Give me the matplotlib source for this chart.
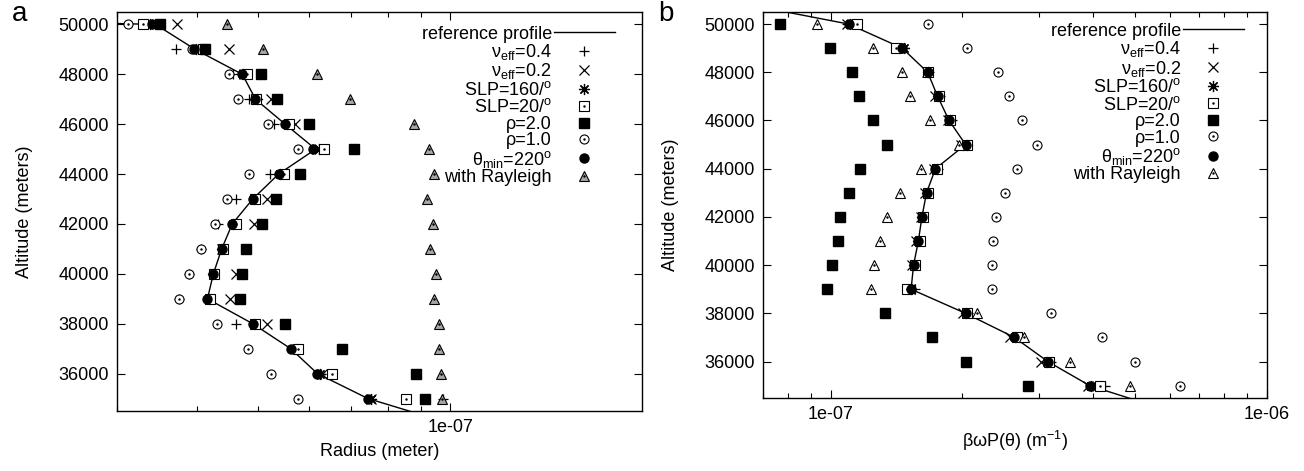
import matplotlib
matplotlib.use('Agg')
from matplotlib import pyplot as plt
import numpy as np

plt.rcParams['font.family'] = ['Liberation Sans', 'DejaVu Sans']
plt.rcParams['mathtext.default'] = 'regular'

# altitudes (meters)
alt = [50000, 49000, 48000, 47000, 46000, 45000, 44000, 43000,
       42000, 41000, 40000, 39000, 38000, 37000, 36000, 35000]
ref_alt = [51000] + alt + [34000]

# panel a: radius (meter)
ref_a = [1.0e-9, 3.45e-8, 3.98e-8, 4.72e-8, 4.95e-8, 5.51e-8, 6.15e-8, 5.38e-8, 4.90e-8,
         4.55e-8, 4.38e-8, 4.25e-8, 4.16e-8, 4.90e-8, 5.62e-8, 6.19e-8, 7.43e-8, 1.0e-7]
nu04_a = [3.40e-8, 3.72e-8, 4.56e-8, 4.83e-8, 5.29e-8, 6.13e-8, 5.22e-8, 4.61e-8,
          4.32e-8, 4.07e-8, 3.89e-8, 3.76e-8, 4.61e-8, 5.70e-8, 6.27e-8, 9.74e-8]
nu02_a = [3.73e-8, 4.49e-8, 4.75e-8, 5.24e-8, 5.70e-8, 6.18e-8, 5.48e-8, 5.16e-8,
          4.93e-8, 4.39e-8, 4.62e-8, 4.52e-8, 5.16e-8, 5.77e-8, 6.29e-8, 7.52e-8]
slp160_a = [3.38e-8, 3.99e-8, 4.73e-8, 4.97e-8, 5.54e-8, 6.22e-8, 5.41e-8, 4.92e-8,
            4.56e-8, 4.39e-8, 4.25e-8, 4.18e-8, 4.92e-8, 5.75e-8, 6.25e-8, 7.50e-8]
slp20_a = [3.30e-8, 4.09e-8, 4.80e-8, 4.96e-8, 5.59e-8, 6.34e-8, 5.48e-8, 4.94e-8,
           4.61e-8, 4.40e-8, 4.26e-8, 4.20e-8, 4.94e-8, 5.77e-8, 6.52e-8, 8.52e-8]
rho2_a = [3.51e-8, 4.13e-8, 5.04e-8, 5.35e-8, 6.01e-8, 7.06e-8, 5.81e-8, 5.33e-8,
          5.06e-8, 4.79e-8, 4.71e-8, 4.68e-8, 5.51e-8, 6.76e-8, 8.84e-8, 9.14e-8]
rho1_a = [3.12e-8, 3.94e-8, 4.49e-8, 4.65e-8, 5.17e-8, 5.77e-8, 4.83e-8, 4.46e-8,
          4.28e-8, 4.07e-8, 3.89e-8, 3.76e-8, 4.31e-8, 4.81e-8, 5.24e-8, 5.77e-8]
theta_a = [3.41e-8, 3.96e-8, 4.72e-8, 4.94e-8, 5.51e-8, 6.10e-8, 5.38e-8, 4.90e-8,
           4.55e-8, 4.38e-8, 4.25e-8, 4.16e-8, 4.90e-8, 5.62e-8, 6.19e-8, 7.43e-8]
rayl_a = [4.46e-8, 5.08e-8, 6.19e-8, 6.97e-8, 8.76e-8, 9.25e-8, 9.42e-8, 9.20e-8,
          9.39e-8, 9.29e-8, 9.51e-8, 9.42e-8, 9.60e-8, 9.60e-8, 9.68e-8, 9.71e-8]

# panel b: beta*omega*P(theta) (1/m)
ref_b = [5.7e-8, 1.10e-7, 1.46e-7, 1.67e-7, 1.76e-7, 1.87e-7, 2.04e-7, 1.74e-7, 1.66e-7,
         1.62e-7, 1.59e-7, 1.55e-7, 1.53e-7, 2.04e-7, 2.64e-7, 3.15e-7, 3.93e-7, 5.87e-7]
nu04_b = [1.09e-7, 1.46e-7, 1.68e-7, 1.78e-7, 1.90e-7, 2.06e-7, 1.76e-7, 1.67e-7,
          1.62e-7, 1.60e-7, 1.56e-7, 1.56e-7, 2.07e-7, 2.68e-7, 3.20e-7, 4.25e-7]
nu02_b = [1.09e-7, 1.44e-7, 1.66e-7, 1.74e-7, 1.86e-7, 1.99e-7, 1.73e-7, 1.65e-7,
          1.61e-7, 1.57e-7, 1.54e-7, 1.52e-7, 2.01e-7, 2.58e-7, 3.04e-7, 3.89e-7]
slp160_b = [1.11e-7, 1.47e-7, 1.67e-7, 1.76e-7, 1.88e-7, 2.05e-7, 1.75e-7, 1.66e-7,
            1.62e-7, 1.59e-7, 1.55e-7, 1.53e-7, 2.04e-7, 2.65e-7, 3.14e-7, 3.95e-7]
slp20_b = [1.15e-7, 1.41e-7, 1.67e-7, 1.77e-7, 1.88e-7, 2.06e-7, 1.75e-7, 1.67e-7,
           1.63e-7, 1.60e-7, 1.56e-7, 1.50e-7, 2.05e-7, 2.67e-7, 3.17e-7, 4.14e-7]
rho2_b = [7.65e-8, 9.95e-8, 1.12e-7, 1.16e-7, 1.25e-7, 1.35e-7, 1.17e-7, 1.10e-7,
          1.05e-7, 1.04e-7, 1.01e-7, 9.82e-8, 1.33e-7, 1.71e-7, 2.04e-7, 2.83e-7]
rho1_b = [1.67e-7, 2.05e-7, 2.42e-7, 2.57e-7, 2.75e-7, 2.98e-7, 2.67e-7, 2.51e-7,
          2.40e-7, 2.36e-7, 2.34e-7, 2.34e-7, 3.20e-7, 4.19e-7, 4.98e-7, 6.32e-7]
theta_b = [1.10e-7, 1.46e-7, 1.67e-7, 1.76e-7, 1.87e-7, 2.04e-7, 1.74e-7, 1.66e-7,
           1.62e-7, 1.59e-7, 1.55e-7, 1.53e-7, 2.04e-7, 2.64e-7, 3.15e-7, 3.93e-7]
rayl_b = [9.32e-8, 1.25e-7, 1.46e-7, 1.52e-7, 1.69e-7, 1.97e-7, 1.61e-7, 1.44e-7,
          1.35e-7, 1.30e-7, 1.26e-7, 1.24e-7, 2.17e-7, 2.78e-7, 3.54e-7, 4.87e-7]

labels = ['reference profile', 'ν$_{eff}$=0.4', 'ν$_{eff}$=0.2', 'SLP=160/$^{o}$',
          'SLP=20/$^{o}$', 'ρ=2.0', 'ρ=1.0', 'θ$_{min}$=220$^{o}$', 'with Rayleigh']

FS = 13


def draw_panel(ax, ref, series, tri_face):
    ref_line, = ax.plot(ref, ref_alt, '-', color='k', lw=1.0)
    nu04, nu02, slp160, slp20, rho2, rho1, theta, rayl = series
    kw = dict(ls='none', color='k', ms=6.5)
    h1, = ax.plot(nu04, alt, marker='+', mew=0.9, **kw)
    h2, = ax.plot(nu02, alt, marker='x', mew=0.9, **kw)
    h3, = ax.plot(slp160, alt, marker=(8, 2, 0), mew=0.9, ls='none', color='k', ms=8)
    h4, = ax.plot(slp20, alt, marker='s', mfc='white', mew=0.8, **kw)
    d4, = ax.plot(slp20, alt, ls='none', marker='.', color='k', ms=1.5)
    h5, = ax.plot(rho2, alt, marker='s', **kw)
    h6, = ax.plot(rho1, alt, marker='o', mfc='white', mew=0.8, **kw)
    d6, = ax.plot(rho1, alt, ls='none', marker='.', color='k', ms=1.5)
    h7, = ax.plot(theta, alt, marker='o', **kw)
    h8, = ax.plot(rayl, alt, marker='^', mfc=tri_face, mew=0.8, ls='none', color='k', ms=6.5)
    d8, = ax.plot(rayl, alt, ls='none', marker='.', color='k', ms=1.5)
    return [ref_line, h1, h2, h3, (h4, d4), h5, (h6, d6), h7, (h8, d8)]


fig = plt.figure(figsize=(13.04, 4.71), dpi=100)
ax1 = fig.add_axes([0.0897, 0.1274, 0.4026, 0.8471])
ax2 = fig.add_axes([0.5851, 0.1556, 0.3863, 0.8189])

hs1 = draw_panel(ax1, ref_a, [nu04_a, nu02_a, slp160_a, slp20_a, rho2_a, rho1_a, theta_a, rayl_a], '0.65')
hs2 = draw_panel(ax2, ref_b, [nu04_b, nu02_b, slp160_b, slp20_b, rho2_b, rho1_b, theta_b, rayl_b], 'white')

ax1.set_xscale('log')
ax1.set_xlim(3e-8, 2e-7)
ax1.set_xticks([1e-7], ['1e-07'])
ax1.set_xticks([3e-8, 4e-8, 5e-8, 6e-8, 7e-8, 8e-8, 9e-8], minor=True)
ax1.set_xticklabels([], minor=True)
ax1.set_xlabel('Radius (meter)', fontsize=FS, labelpad=5)

ax2.set_xscale('log')
ax2.set_xlim(7e-8, 1e-6)
ax2.set_xticks([1e-7, 1e-6], ['1e-07', '1e-06'])
ax2.set_xticks([7e-8, 8e-8, 9e-8] + [k * 1e-7 for k in range(2, 10)], minor=True)
ax2.set_xticklabels([], minor=True)
ax2.set_xlabel('βωP(θ) (m$^{-1}$)', fontsize=FS, labelpad=4)

for ax, hs, anchor in [(ax1, hs1, (0.9486, 0.966)), (ax2, hs2, (0.955, 0.972))]:
    ax.set_ylim(34500, 50500)
    ax.set_yticks(np.arange(36000, 50001, 2000))
    ax.set_ylabel('Altitude (meters)', fontsize=FS, labelpad=18)
    ax.tick_params(which='both', direction='in', top=True, right=True, labelsize=FS, width=0.8)
    ax.tick_params(which='major', length=6, pad=6)
    ax.tick_params(which='minor', length=3.5)
    for s in ax.spines.values():
        s.set_linewidth(1.0)
    ax.legend(hs, labels, loc='upper right', bbox_to_anchor=anchor, frameon=False,
              markerfirst=False, handlelength=3.4, handletextpad=0.1, labelspacing=-0.03,
              borderpad=0, borderaxespad=0, fontsize=FS, numpoints=1)

fig.text(0.009, 0.955, 'a', fontsize=20)
fig.text(0.505, 0.955, 'b', fontsize=20)

fig.savefig('out.png', dpi=100)
plt.close()
